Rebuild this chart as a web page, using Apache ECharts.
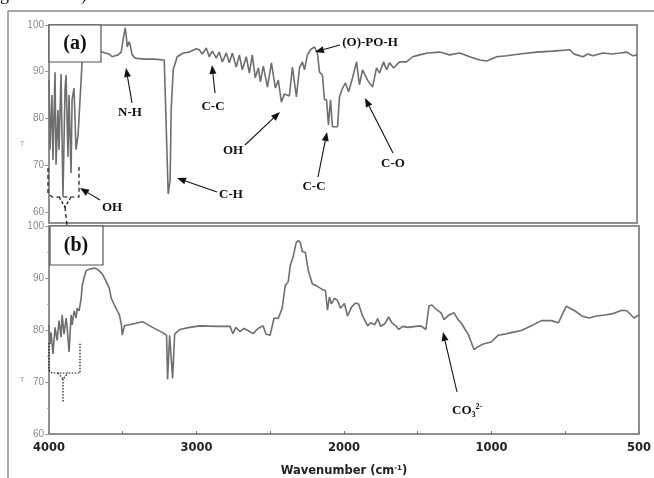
<!DOCTYPE html>
<html>
<head>
<meta charset="utf-8">
<script src="https://cdn.jsdelivr.net/npm/echarts@6/dist/echarts.min.js"></script>
<style>
html, body { margin: 0; padding: 0; background: #fff; }
#main { width: 654px; height: 478px; }
</style>
</head>
<body>
<div id="main"></div>
<script>
// x tick labels (axis is evenly spaced per label, as in the source figure)
var tickLabels = ['4000', '3000', '2000', '1000', '500'];
var yTicksA = [60, 70, 80, 90, 100];

// spectrum (a)
var waveA = [4000,3993,3980,3973,3959,3952,3939,3932,3918,3905,
  3891,3884,3871,3864,3850,3843,3830,3816,3802,3789,
  3775,3727,3652,3618,3591,3571,3550,3530,3509,3496,
  3482,3475,3468,3455,3448,3434,3414,3353,3284,3216,
  3203,3196,3189,3176,3169,3155,3128,3087,3046,3012,
  2998,2978,2957,2930,2910,2889,2862,2842,2821,2794,
  2773,2753,2726,2705,2685,2658,2637,2617,2597,2576,
  2562,2542,2514,2487,2460,2440,2419,2399,2365,2344,
  2317,2296,2276,2262,2242,2221,2194,2174,2160,2140,
  2126,2112,2099,2085,2072,2037,2024,2003,1983,1962,
  1935,1908,1888,1867,1833,1799,1772,1751,1724,1704,
  1683,1656,1615,1568,1526,1479,1424,1342,1274,1206,
  1138,1070,1022,977,943,899,841,786,728,715,
  705,684,667,650,616,585,558,534,514,500];
var transA = [88.2,73.3,85.0,71.1,89.9,70.1,81.8,73.3,89.5,63.2,
  86.1,89.3,71.8,85.0,68.3,84.0,86.5,73.3,76.5,84.0,
  92.1,93.6,94.4,94.0,93.8,93.2,93.4,93.6,94.2,96.8,
  99.4,97.9,95.3,96.4,95.7,93.6,92.9,92.7,92.7,92.5,
  92.1,71.1,63.8,66.8,81.8,90.4,93.2,94.0,94.2,94.7,
  94.9,94.7,93.8,95.1,93.2,94.4,92.9,94.2,92.1,94.0,
  91.9,94.0,91.0,93.6,90.4,93.2,89.7,93.6,88.7,90.8,
  87.8,91.2,86.7,91.9,86.5,88.2,83.5,85.2,84.8,91.0,
  84.6,90.8,92.1,90.4,93.6,94.7,95.3,94.0,89.9,89.3,
  84.0,84.0,78.6,84.0,78.2,78.2,84.6,86.5,87.6,85.7,
  88.7,92.1,87.2,90.4,88.2,86.7,90.8,89.7,92.1,90.4,
  91.9,90.8,92.1,92.1,93.2,93.6,94.0,94.2,93.6,94.0,
  93.2,92.5,92.3,93.2,93.4,93.8,94.2,94.4,94.7,93.8,
  93.6,93.2,93.8,93.4,94.0,93.8,94.0,94.2,93.4,93.6];

// spectrum (b)
var waveB = [4000,3993,3986,3973,3959,3945,3932,3918,3911,3898,
  3884,3877,3864,3850,3843,3830,3816,3809,3796,3782,
  3775,3761,3748,3727,3693,3673,3639,3612,3591,3578,
  3557,3537,3523,3509,3503,3489,3455,3366,3298,3230,
  3203,3196,3182,3162,3148,3114,3046,2978,2862,2773,
  2753,2733,2705,2678,2651,2617,2583,2549,2528,2501,
  2474,2446,2419,2399,2378,2365,2344,2324,2310,2296,
  2283,2262,2242,2215,2181,2147,2126,2112,2099,2085,
  2065,2044,2024,1997,1976,1949,1922,1901,1874,1840,
  1819,1792,1772,1751,1724,1697,1676,1649,1629,1601,
  1567,1513,1479,1445,1424,1404,1376,1342,1322,1288,
  1254,1227,1206,1179,1158,1138,1118,1097,1056,1002,
  977,956,933,899,865,831,797,773,756,746,
  728,718,694,670,643,616,592,558,541,517,
  500];
var transB = [81.0,77.3,79.5,75.4,80.5,78.0,81.8,78.6,82.9,79.2,
  82.3,80.5,75.8,82.9,81.0,83.7,82.3,84.2,83.7,86.1,
  88.5,90.2,91.4,91.7,91.9,91.7,90.8,89.3,88.0,86.1,
  84.8,83.7,82.9,81.0,79.0,80.8,81.0,81.6,80.5,79.5,
  79.0,70.5,79.0,70.7,79.2,80.1,80.5,80.8,80.7,80.7,
  79.3,80.5,79.7,80.3,79.9,79.3,80.3,80.8,79.2,79.0,
  82.3,82.2,84.2,88.5,89.3,92.3,94.2,96.8,97.2,96.8,
  95.1,94.9,91.4,88.9,88.4,87.8,87.6,83.8,86.3,85.0,
  86.1,85.7,84.2,85.1,82.7,84.4,85.2,85.0,82.7,80.8,
  81.4,81.0,82.2,80.7,81.2,82.5,81.4,80.8,80.1,80.7,
  80.5,80.7,80.8,80.1,84.6,84.8,84.0,83.3,82.0,82.9,
  83.3,82.0,81.4,80.1,79.2,77.7,76.2,76.7,77.3,77.7,
  79.0,79.2,79.5,79.9,80.8,81.8,81.8,81.4,83.5,84.6,
  84.0,83.7,82.7,82.3,82.7,82.9,83.1,83.8,83.7,82.3,
  82.9];

// wavenumber -> position along the (piecewise) axis, one unit per tick label
function wnToPos(w) {
  return w >= 1000 ? (4000 - w) / 1000 : 3 + (1000 - w) / 500;
}
function pairs(wave, t) {
  var out = [];
  for (var i = 0; i < wave.length; i++) out.push([wnToPos(wave[i]), t[i]]);
  return out;
}

function arrow(x1, y1, x2, y2) {
  var a = Math.atan2(y2 - y1, x2 - x1), L = 9, W = 3.5;
  var bx = x2 - L * Math.cos(a), by = y2 - L * Math.sin(a);
  var px = -Math.sin(a) * W, py = Math.cos(a) * W;
  return [
    { type: 'line', z: 100, shape: { x1: x1, y1: y1, x2: bx, y2: by }, style: { stroke: '#111', lineWidth: 1.1 } },
    { type: 'polygon', z: 100, shape: { points: [[x2, y2], [bx + px, by + py], [bx - px, by - py]] }, style: { fill: '#111' } }
  ];
}
function label(text, x, y, size) {
  return { type: 'text', z: 100, x: x, y: y, style: {
    text: text, font: 'bold ' + (size || 13) + 'px "Liberation Serif"', fill: '#111',
    align: 'center', verticalAlign: 'middle', textAlign: 'center', textVerticalAlign: 'middle' } };
}

var myChart = echarts.init(document.getElementById('main'));

var graphics = [
  // outer frame of the figure
  { type: 'line', z: 90, shape: { x1: 8, y1: 11, x2: 654, y2: 11 }, style: { stroke: '#8a8a8a', lineWidth: 1.5 } },
  { type: 'line', z: 90, shape: { x1: 8, y1: 11, x2: 8, y2: 478 }, style: { stroke: '#8a8a8a', lineWidth: 1.5 } },
  // caption fragment cut at the top
  { type: 'text', z: 90, x: 0, y: -14, style: { text: 'g', font: '18px "Liberation Serif"', fill: '#111' } },
  { type: 'text', z: 90, x: 81, y: -14, style: { text: ')', font: '18px "Liberation Serif"', fill: '#111' } },
  // panel boxes
  { type: 'rect', z: 100, shape: { x: 49, y: 25, width: 52, height: 37 }, style: { fill: '#fff', stroke: '#555', lineWidth: 1.2 } },
  label('(a)', 75, 44, 20),
  { type: 'rect', z: 100, shape: { x: 50, y: 226, width: 53, height: 39 }, style: { fill: '#fff', stroke: '#555', lineWidth: 1.2 } },
  label('(b)', 76, 246, 20),
  // y axis title specks
  { type: 'text', z: 90, x: 20, y: 141, style: { text: 'T', font: '7px "Liberation Sans"', fill: '#999' } },
  { type: 'text', z: 90, x: 20, y: 377, style: { text: 'T', font: '7px "Liberation Sans"', fill: '#999' } },
  // dashed bracket (a)
  { type: 'polyline', z: 100, shape: { points: [[48, 168], [48, 193], [52, 197], [79, 197], [79, 167]] },
    style: { stroke: '#111', lineWidth: 1.2, lineDash: [4, 3], fill: null } },
  { type: 'polyline', z: 100, shape: { points: [[59, 197], [65, 207], [71, 197]] },
    style: { stroke: '#111', lineWidth: 1.2, lineDash: [3, 2], fill: null } },
  { type: 'line', z: 100, shape: { x1: 65, y1: 207, x2: 67, y2: 226 }, style: { stroke: '#111', lineWidth: 1.2, lineDash: [4, 3] } },
  // dotted bracket (b)
  { type: 'polyline', z: 100, shape: { points: [[49, 343], [49, 370], [52, 373], [80, 373], [80, 343]] },
    style: { stroke: '#111', lineWidth: 1.2, lineDash: [1.5, 1.5], fill: null } },
  { type: 'polyline', z: 100, shape: { points: [[58, 373], [63, 379], [68, 373]] },
    style: { stroke: '#111', lineWidth: 1.2, lineDash: [1.5, 1.5], fill: null } },
  { type: 'line', z: 100, shape: { x1: 63, y1: 379, x2: 63, y2: 402 }, style: { stroke: '#111', lineWidth: 1.2, lineDash: [1.5, 1.5] } },
  // annotations
  label('N-H', 130, 113),
  label('C-C', 213, 107),
  label('C-H', 231, 195),
  label('OH', 233, 151),
  label('C-C', 314, 187),
  label('C-O', 393, 164),
  label('(O)-PO-H', 370, 43),
  label('OH', 112, 208),
  { type: 'text', z: 100, x: 452, y: 403, style: {
    text: '{n|CO}{s|3}{p|2-}', font: 'bold 13px "Liberation Serif"', fill: '#111',
    rich: {
      n: { fontFamily: 'Liberation Serif', fontWeight: 'bold', fontSize: 13, fill: '#111', color: '#111', lineHeight: 16 },
      s: { fontFamily: 'Liberation Serif', fontWeight: 'bold', fontSize: 8, fill: '#111', color: '#111', verticalAlign: 'bottom', lineHeight: 16 },
      p: { fontFamily: 'Liberation Serif', fontWeight: 'bold', fontSize: 8, fill: '#111', color: '#111', verticalAlign: 'top', lineHeight: 16 }
    } } }
];
graphics = graphics
  .concat(arrow(132, 103, 126, 68))
  .concat(arrow(215, 93, 212, 65))
  .concat(arrow(217, 192, 177, 178))
  .concat(arrow(245, 145, 280, 112))
  .concat(arrow(318, 177, 327, 132))
  .concat(arrow(393, 153, 365, 98))
  .concat(arrow(340, 45, 315, 52))
  .concat(arrow(100, 200, 80, 188))
  .concat(arrow(457, 392, 443, 332));

var yLabel = { color: '#8a8a8a', fontSize: 10, fontFamily: 'Liberation Sans', margin: 5 };
var yTick = { show: true, length: 4, lineStyle: { color: '#999' } };

option = {
  animation: false,
  backgroundColor: '#fff',
  grid: [
    { left: 49, top: 25, width: 588, height: 198, show: true, borderColor: '#8f8f8f', borderWidth: 2 },
    { left: 49, top: 226, width: 590, height: 213, show: true, borderColor: '#8f8f8f', borderWidth: 2 }
  ],
  xAxis: [
    { gridIndex: 0, type: 'value', min: 0, max: 4, interval: 1,
      axisLine: { show: false }, axisTick: { show: false }, axisLabel: { show: false }, splitLine: { show: false } },
    { gridIndex: 1, type: 'value', min: 0, max: 4, interval: 1,
      axisLine: { show: false }, splitLine: { show: false },
      axisTick: { show: true, inside: true, length: 3, lineStyle: { color: '#777' } },
      minorTick: { show: true, splitNumber: 2, length: 3, lineStyle: { color: '#777' } },
      axisLabel: { color: '#222', fontSize: 11.5, fontWeight: 'bold', fontFamily: 'DejaVu Sans', margin: 8,
        formatter: function (v) { return tickLabels[Math.round(v)]; } },
      name: 'Wavenumber (cm{sup|-1})', nameLocation: 'middle', nameGap: 31,
      nameTextStyle: { color: '#222', fontSize: 11.5, fontWeight: 'bold', fontFamily: 'DejaVu Sans',
        rich: { sup: { fontSize: 7, fontWeight: 'bold', fontFamily: 'DejaVu Sans', color: '#222', verticalAlign: 'top' } } } }
  ],
  yAxis: [
    { gridIndex: 0, type: 'value', min: 57.6, max: 100,
      axisLine: { show: false }, splitLine: { show: false },
      axisTick: { show: true, length: 4, lineStyle: { color: '#999' }, customValues: yTicksA },
      axisLabel: { color: '#8a8a8a', fontSize: 10, fontFamily: 'Liberation Sans', margin: 5, customValues: yTicksA } },
    { gridIndex: 1, type: 'value', min: 60, max: 100, interval: 10,
      axisLine: { show: false }, splitLine: { show: false },
      axisTick: yTick,
      minorTick: { show: true, splitNumber: 2, length: 2, lineStyle: { color: '#aaa' } },
      axisLabel: yLabel }
  ],
  graphic: graphics,
  series: []
};

option.series.push({
  type: 'line', xAxisIndex: 0, yAxisIndex: 0, showSymbol: false, silent: true,
  lineStyle: { color: '#6e6e6e', width: 1.6 }, data: pairs(waveA, transA)
});
option.series.push({
  type: 'line', xAxisIndex: 1, yAxisIndex: 1, showSymbol: false, silent: true,
  lineStyle: { color: '#6e6e6e', width: 1.6 }, data: pairs(waveB, transB)
});

myChart.setOption(option);
</script>
</body>
</html>
